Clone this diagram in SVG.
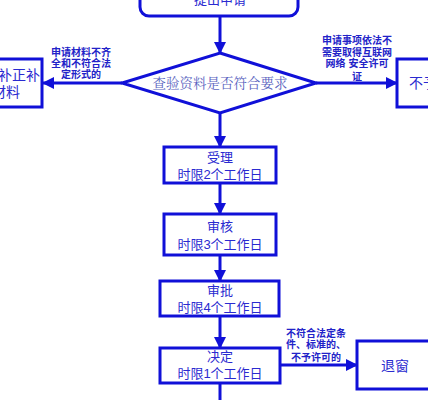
<svg xmlns="http://www.w3.org/2000/svg" width="428" height="400" viewBox="0 0 428 400">
<defs>
<marker id="ah" markerUnits="userSpaceOnUse" markerWidth="12" markerHeight="12" refX="11" refY="6" orient="auto">
<path d="M0,0 L12,6 L0,12 Z" fill="#1010d8"/>
</marker>
<style>
.bx{fill:#fff;stroke:#1010d8;stroke-width:3}
.ln{fill:none;stroke:#1010d8;stroke-width:3}
.t{font-family:"Liberation Sans","Noto Sans CJK SC",sans-serif;fill:#2a2ad0;font-size:13px;text-anchor:middle}
.s{font-family:"Liberation Sans","Noto Sans CJK SC",sans-serif;fill:#2222c8;font-size:10px;text-anchor:middle;font-weight:bold}
.d{font-family:"Liberation Serif","Noto Serif CJK SC","Noto Sans CJK SC",serif;fill:#5a64c0;font-size:13.5px;text-anchor:middle}
</style>
</defs>
<rect width="428" height="400" fill="#fff"/>
<g id="connectors">
<line class="ln" x1="220" y1="16" x2="220" y2="53" marker-end="url(#ah)"/>
<line class="ln" x1="122" y1="83" x2="43" y2="83" marker-end="url(#ah)"/>
<line class="ln" x1="316" y1="83" x2="397" y2="83" marker-end="url(#ah)"/>
<line class="ln" x1="220" y1="113" x2="220" y2="147" marker-end="url(#ah)"/>
<line class="ln" x1="220" y1="183" x2="220" y2="214" marker-end="url(#ah)"/>
<line class="ln" x1="220" y1="255" x2="220" y2="281" marker-end="url(#ah)"/>
<line class="ln" x1="220" y1="316" x2="220" y2="348" marker-end="url(#ah)"/>
<line class="ln" x1="280" y1="365" x2="357" y2="365" marker-end="url(#ah)"/>
<line class="ln" x1="220" y1="383" x2="220" y2="402"/>
<text class="s" x="81" y="56">申请材料不齐</text>
<text class="s" x="81" y="67">全和不符合法</text>
<text class="s" x="81" y="78">定形式的</text>
<text class="s" x="357" y="44">申请事项依法不</text>
<text class="s" x="357" y="56">需要取得互联网</text>
<text class="s" x="357" y="67">网络 安全许可</text>
<text class="s" x="357" y="80">证</text>
<text class="s" x="316" y="337">不符合法定条</text>
<text class="s" x="316" y="348">件、标准的、</text>
<text class="s" x="316" y="361">不予许可的</text>
</g>
<g id="start">
<rect class="bx" x="140" y="-20" width="158" height="36" rx="9"/>
<text class="t" x="220" y="4">提出申请</text>
</g>
<g id="check">
<polygon class="bx" points="220,53 316,83 220,113 122,83" stroke-width="3.5"/>
<text class="d" x="220" y="88">查验资料是否符合要求</text>
</g>
<g id="supplement">
<rect class="bx" x="-10" y="59" width="52" height="48"/>
<text class="t" x="19" y="80" style="font-size:14px">补正补</text>
<text class="t" x="6" y="97" style="font-size:14px">材料</text>
</g>
<g id="reject1">
<rect class="bx" x="397" y="59" width="40" height="48"/>
<text class="t" x="409" y="88" style="text-anchor:start;font-size:14px">不予受理</text>
</g>
<g id="accept">
<rect class="bx" x="164" y="147" width="112" height="36"/>
<text class="t" x="220" y="162">受理</text>
<text class="t" x="220" y="179">时限2个工作日</text>
</g>
<g id="review">
<rect class="bx" x="164" y="214" width="112" height="41"/>
<text class="t" x="220" y="231">审核</text>
<text class="t" x="220" y="249">时限3个工作日</text>
</g>
<g id="approve">
<rect class="bx" x="160" y="281" width="119" height="35"/>
<text class="t" x="220" y="295">审批</text>
<text class="t" x="220" y="312">时限4个工作日</text>
</g>
<g id="decide">
<rect class="bx" x="160" y="348" width="120" height="35"/>
<text class="t" x="220" y="361">决定</text>
<text class="t" x="220" y="378">时限1个工作日</text>
</g>
<g id="return">
<rect class="bx" x="357" y="341" width="80" height="48"/>
<text class="t" x="395" y="371" style="font-size:14px">退窗</text>
</g>
</svg>
